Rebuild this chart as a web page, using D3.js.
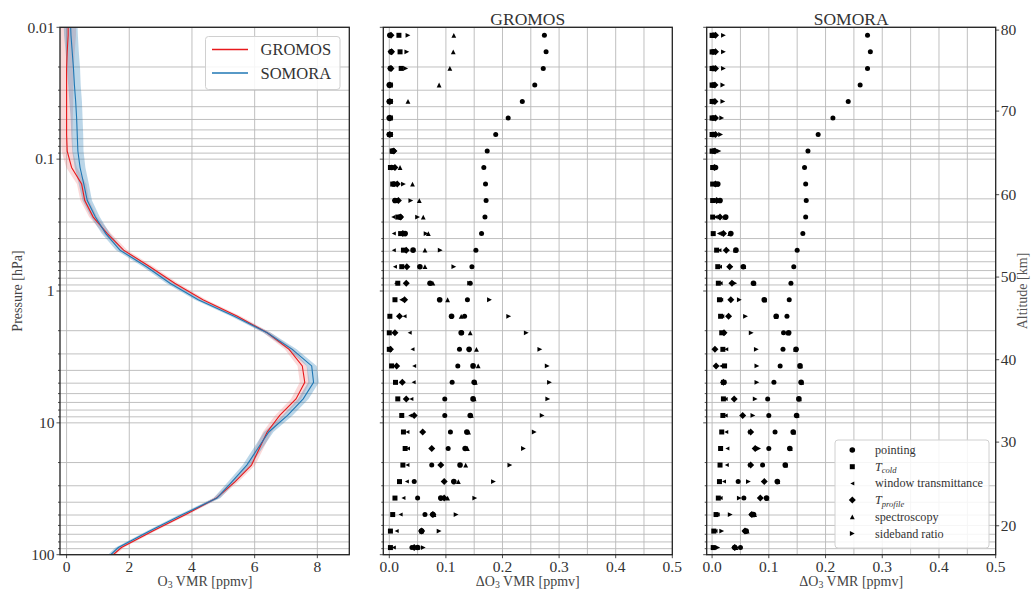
<!DOCTYPE html>
<html>
<head>
<meta charset="utf-8">
<script src="https://cdn.jsdelivr.net/npm/d3@7"></script>
<style>
  body { margin: 0; background: #fff; }
  svg { display: block; }
  text { font-family: "Liberation Serif", "Times New Roman", serif; fill: #333; }
</style>
</head>
<body>
<svg id="chart" width="1031" height="592"></svg>
<script>
// ---------------- data ----------------
// retrieval levels (hPa), top to bottom
const levels = [0.0115, 0.01535, 0.0205, 0.0274, 0.0365, 0.0487, 0.0650, 0.0868,
  0.1157, 0.1545, 0.206, 0.275, 0.367, 0.490, 0.654, 0.873,
  1.165, 1.555, 2.075, 2.77, 3.70, 4.93, 6.58, 8.79,
  11.73, 15.65, 20.9, 27.9, 37.2, 49.6, 66.2, 88.3];

// mean ozone profiles (ppmv) on the profile grid
const profilePressure = [0.01].concat(levels, [100]);
const gromosVmr = [0.05, 0.05, 0.02, 0.0, 0.0, 0.0, 0.0, 0.0, 0.02, 0.16, 0.48, 0.58, 0.85, 1.3, 1.82, 2.66,
  3.45, 4.35, 5.45, 6.4, 7.1, 7.52, 7.6, 7.32, 6.8, 6.4, 6.15, 5.9, 5.38, 4.78, 3.8, 2.75, 1.75, 1.49];
const somoraVmr = [0.13, 0.14, 0.18, 0.22, 0.25, 0.29, 0.32, 0.34, 0.36, 0.43, 0.55, 0.66, 0.92, 1.25, 1.7, 2.55,
  3.3, 4.2, 5.35, 6.4, 7.2, 7.82, 7.88, 7.55, 7.05, 6.45, 6.1, 5.75, 5.28, 4.8, 3.7, 2.65, 1.65, 1.41];
const gromosStd = [0.25, 0.25, 0.24, 0.23, 0.22, 0.21, 0.2, 0.19, 0.18, 0.17, 0.15, 0.14, 0.13, 0.12, 0.12, 0.12,
  0.11, 0.11, 0.11, 0.12, 0.14, 0.15, 0.16, 0.16, 0.15, 0.14, 0.13, 0.12, 0.11, 0.1, 0.09, 0.09, 0.08, 0.08];
const somoraStd = [0.22, 0.22, 0.21, 0.21, 0.2, 0.2, 0.19, 0.19, 0.18, 0.17, 0.16, 0.15, 0.14, 0.13, 0.12, 0.12,
  0.12, 0.11, 0.11, 0.12, 0.14, 0.16, 0.17, 0.17, 0.16, 0.15, 0.14, 0.13, 0.12, 0.11, 0.1, 0.09, 0.09, 0.09];

// GROMOS error terms (ppmv) at each level
const gromosPointing = [0.001, 0.003, 0.002, 0.0, 0.0, 0.0, 0.0, 0.006, 0.004, 0.008, 0.01, 0.019, 0.028, 0.042, 0.054, 0.072,
  0.089, 0.110, 0.127, 0.141, 0.148, 0.150, 0.148, 0.143, 0.137, 0.134, 0.125, 0.114, 0.091, 0.077, 0.057, 0.050];
const gromosTcold = [0.017, 0.019, 0.021, 0.002, 0.002, 0.002, 0.002, 0.005, 0.002, 0.006, 0.012, 0.015, 0.020, 0.025, 0.022, 0.015,
  0.010, 0.001, 0.0, 0.0, 0.004, 0.011, 0.015, 0.022, 0.025, 0.028, 0.024, 0.018, 0.010, 0.006, 0.002, 0.002];
const gromosWindow = [0.0, 0.0, 0.0, 0.0, 0.0, 0.0, 0.0, 0.008, 0.005, 0.006, 0.008, 0.007, 0.008, 0.008, 0.010, 0.012,
  0.021, 0.027, 0.036, 0.041, 0.044, 0.043, 0.039, 0.037, 0.032, 0.033, 0.032, 0.031, 0.025, 0.020, 0.013, 0.008];
const gromosTprofile = [0.003, 0.004, 0.003, 0.001, 0.001, 0.001, 0.001, 0.008, 0.010, 0.014, 0.016, 0.020, 0.024, 0.030, 0.031, 0.030,
  0.027, 0.018, 0.010, 0.002, 0.013, 0.023, 0.030, 0.044, 0.059, 0.075, 0.091, 0.097, 0.097, 0.077, 0.057, 0.044];
const gromosSpectro = [0.114, 0.113, 0.107, 0.088, 0.033, 0.001, 0.001, 0.005, 0.019, 0.041, 0.053, 0.060, 0.069, 0.063, 0.063, 0.077,
  0.103, 0.127, 0.143, 0.154, 0.157, 0.152, 0.150, 0.145, 0.140, 0.138, 0.135, 0.122, 0.103, 0.079, 0.057, 0.050];
const gromosSideband = [0.033, 0.031, 0.029, 0.001, 0.001, 0.001, 0.001, 0.010, 0.010, 0.025, 0.038, 0.050, 0.065, 0.090, 0.114, 0.142,
  0.177, 0.211, 0.242, 0.266, 0.279, 0.283, 0.280, 0.270, 0.256, 0.237, 0.213, 0.184, 0.151, 0.118, 0.088, 0.060];
const gromosExtra = [0.274, 0.277, 0.272, 0.257, 0.235, 0.210, 0.188, 0.173, 0.167, 0.170, 0.171, 0.169, 0.163, 0.153, 0.146, 0.143,
  0.138, 0.133, 0.128, 0.124, 0.121, 0.111, 0.098, 0.098, 0.108, 0.104, 0.075, 0.044, 0.050, 0.063, 0.057, 0.040];

// SOMORA error terms (ppmv) at each level
const somoraPointing = [0.002, 0.002, 0.002, 0.002, 0.002, 0.002, 0.002, 0.003, 0.006, 0.010, 0.014, 0.024, 0.033, 0.042, 0.055, 0.073,
  0.092, 0.113, 0.135, 0.148, 0.155, 0.157, 0.153, 0.149, 0.143, 0.137, 0.129, 0.115, 0.096, 0.073, 0.060, 0.040];
const somoraTcold = [0.0, 0.0, 0.0, 0.0, 0.0, 0.0, 0.0, 0.0, 0.001, 0.001, 0.001, 0.001, 0.002, 0.008, 0.010, 0.011,
  0.013, 0.015, 0.017, 0.019, 0.022, 0.020, 0.020, 0.019, 0.017, 0.015, 0.014, 0.013, 0.011, 0.007, 0.003, 0.002];
const somoraWindow = [0.003, 0.003, 0.003, 0.003, 0.003, 0.003, 0.003, 0.003, 0.004, 0.005, 0.006, 0.006, 0.012, 0.013, 0.014, 0.015,
  0.016, 0.018, 0.021, 0.025, 0.016, 0.022, 0.024, 0.024, 0.025, 0.027, 0.026, 0.021, 0.015, 0.010, 0.006, 0.004];
const somoraTprofile = [0.006, 0.006, 0.006, 0.005, 0.005, 0.006, 0.006, 0.005, 0.004, 0.006, 0.008, 0.014, 0.020, 0.025, 0.031, 0.035,
  0.033, 0.029, 0.021, 0.005, 0.007, 0.020, 0.039, 0.054, 0.068, 0.076, 0.068, 0.092, 0.085, 0.070, 0.058, 0.040];
const somoraSpectro = [0.0, 0.0, 0.0, 0.0, 0.0, 0.0, 0.0, 0.0, 0.004, 0.008, 0.012, 0.022, 0.031, 0.041, 0.056, 0.074,
  0.093, 0.113, 0.134, 0.147, 0.156, 0.158, 0.154, 0.150, 0.144, 0.138, 0.130, 0.116, 0.097, 0.075, 0.062, 0.042];
const somoraSideband = [0.020, 0.020, 0.020, 0.019, 0.019, 0.017, 0.015, 0.012, 0.005, 0.008, 0.012, 0.014, 0.020, 0.027, 0.033, 0.040,
  0.048, 0.059, 0.069, 0.078, 0.079, 0.079, 0.076, 0.072, 0.068, 0.082, 0.068, 0.064, 0.048, 0.032, 0.017, 0.010];
const somoraExtra = [0.274, 0.279, 0.274, 0.261, 0.240, 0.213, 0.187, 0.169, 0.163, 0.165, 0.166, 0.165, 0.160, 0.150, 0.144, 0.139,
  0.136, 0.132, 0.126, 0.125, 0.120, 0.109, 0.098, 0.100, 0.111, 0.100, 0.089, 0.046, 0.056, 0.070, 0.058, 0.050];

// axis ticks
const pressureTicks = [0.01, 0.1, 1, 10, 100];
const pressureTickLabels = ["0.01", "0.1", "1", "10", "100"];
const vmrTicks = [0, 2, 4, 6, 8];
const errTicks = [0, 0.1, 0.2, 0.3, 0.4, 0.5];
const errGrid = [0, 0.05, 0.1, 0.15, 0.2, 0.25, 0.3, 0.35, 0.4, 0.45];
const altitudeTicks = [20, 30, 40, 50, 60, 70, 80];
const altitudePressure = [60.3, 14.0, 3.32, 0.784, 0.186, 0.0432, 0.0105];

// error term legend entries
const errorTerms = [
  { key: "pointing", marker: "circle", label: [["pointing", false]] },
  { key: "Tcold", marker: "square", label: [["T", true], ["cold", true, true]] },
  { key: "window", marker: "left", label: [["window transmittance", false]] },
  { key: "Tprofile", marker: "diamond", label: [["T", true], ["profile", true, true]] },
  { key: "spectro", marker: "up", label: [["spectroscopy", false]] },
  { key: "sideband", marker: "right", label: [["sideband ratio", false]] }
];
const gromosErrors = { pointing: gromosPointing, Tcold: gromosTcold, window: gromosWindow,
  Tprofile: gromosTprofile, spectro: gromosSpectro, sideband: gromosSideband, extra: gromosExtra };
const somoraErrors = { pointing: somoraPointing, Tcold: somoraTcold, window: somoraWindow,
  Tprofile: somoraTprofile, spectro: somoraSpectro, sideband: somoraSideband, extra: somoraExtra };

// ---------------- layout ----------------
const svg = d3.select("#chart");
const plotTop = 27.3, plotBottom = 554.7;
const panels = [
  { x0: 60, x1: 349.3, domain: [-0.21, 9.02] },
  { x0: 383.3, x1: 672.3, domain: [-0.0106, 0.5] },
  { x0: 706.7, x1: 995.7, domain: [-0.0095, 0.5] }
];
const y = d3.scaleLog().domain([100, 0.01]).range([plotBottom, plotTop]);
const gridColor = "#b9b9b9";
const tickFont = 15.5;

function markerPath(type) {
  switch (type) {
    case "circle": return d3.symbol(d3.symbolCircle, Math.PI * 2.8 * 2.8)();
    case "small": return d3.symbol(d3.symbolCircle, Math.PI * 2.5 * 2.5)();
    case "square": { const h = 2.5; return `M${-h},${-h}H${h}V${h}H${-h}Z`; }
    case "diamond": { const h = 3.5; return `M0,${-h}L${h},0L0,${h}L${-h},0Z`; }
    case "up": { const r = 2.4; return `M0,${-r}L${r},${r}L${-r},${r}Z`; }
    case "left": { const r = 2.0; return `M${-r},0L${r},${-r}L${r},${r}Z`; }
    case "right": { const r = 2.4; return `M${r},0L${-r},${-r}L${-r},${r}Z`; }
  }
}

function subText(sel, parts, size) {
  // parts: [text, italic, subscript]
  let shifted = false;
  parts.forEach(([t, it, sub]) => {
    const ts = sel.append("tspan").text(t);
    if (it) ts.attr("font-style", "italic");
    if (sub) { ts.attr("font-size", size * 0.7).attr("dy", size * 0.2); shifted = true; }
    else if (shifted) { ts.attr("dy", -size * 0.2); shifted = false; }
  });
}

function drawFrame(p, i) {
  const x = d3.scaleLinear().domain(p.domain).range([p.x0, p.x1]);
  const g = svg.append("g");
  // horizontal grid at every log tick
  g.append("g").selectAll("line").data(y.ticks()).join("line")
    .attr("x1", p.x0).attr("x2", p.x1)
    .attr("y1", d => y(d)).attr("y2", d => y(d))
    .attr("stroke", gridColor).attr("stroke-width", 0.9);
  // vertical grid
  const vGrid = i === 0 ? vmrTicks : errGrid;
  g.append("g").selectAll("line").data(vGrid).join("line")
    .attr("x1", d => x(d)).attr("x2", d => x(d))
    .attr("y1", plotTop).attr("y2", plotBottom)
    .attr("stroke", gridColor).attr("stroke-width", 0.9);
  // left pressure ticks
  g.append("g").selectAll("line").data(y.ticks()).join("line")
    .attr("x1", p.x0).attr("x2", d => p.x0 - (pressureTicks.includes(d) ? 3.5 : 2))
    .attr("y1", d => y(d)).attr("y2", d => y(d))
    .attr("stroke", "#222").attr("stroke-width", 0.8);
  // bottom ticks and labels
  const xt = i === 0 ? vmrTicks : errTicks;
  g.append("g").selectAll("line").data(xt).join("line")
    .attr("x1", d => x(d)).attr("x2", d => x(d))
    .attr("y1", plotBottom).attr("y2", plotBottom + 3.5)
    .attr("stroke", "#222").attr("stroke-width", 0.8);
  g.append("g").selectAll("text").data(xt).join("text")
    .attr("x", d => x(d)).attr("y", 571.5)
    .attr("text-anchor", "middle").attr("font-size", tickFont)
    .text(d => i === 0 ? d3.format("d")(d) : d3.format(".1f")(d));
  return { x, g };
}

function drawFrameBorder(p) {
  svg.append("rect").attr("x", p.x0).attr("y", plotTop)
    .attr("width", p.x1 - p.x0).attr("height", plotBottom - plotTop)
    .attr("fill", "none").attr("stroke", "#222").attr("stroke-width", 1.3);
}

// ---------------- panel 1: profiles ----------------
const f1 = drawFrame(panels[0], 0);
svg.append("clipPath").attr("id", "clip1").append("rect")
  .attr("x", panels[0].x0).attr("y", plotTop)
  .attr("width", panels[0].x1 - panels[0].x0).attr("height", plotBottom - plotTop);
const pg = svg.append("g").attr("clip-path", "url(#clip1)");
const profiles = [
  { name: "GROMOS", vmr: gromosVmr, std: gromosStd, color: "#e8191c", band: "#f08080" },
  { name: "SOMORA", vmr: somoraVmr, std: somoraStd, color: "#1f77b4", band: "#1f77b4" }
];
profiles.forEach(pr => {
  const rows = profilePressure.map((p, k) => ({ p, v: pr.vmr[k], s: pr.std[k] }));
  const area = d3.area().y(d => y(d.p)).x0(d => f1.x(d.v - d.s)).x1(d => f1.x(d.v + d.s));
  pg.append("path").datum(rows).attr("d", area)
    .attr("fill", pr.band).attr("fill-opacity", 0.3);
});
profiles.forEach(pr => {
  const rows = profilePressure.map((p, k) => ({ p, v: pr.vmr[k] }));
  const line = d3.line().y(d => y(d.p)).x(d => f1.x(d.v));
  pg.append("path").datum(rows).attr("d", line)
    .attr("fill", "none").attr("stroke", pr.color).attr("stroke-width", 1.1);
});
// pressure tick labels
svg.append("g").selectAll("text").data(pressureTicks).join("text")
  .attr("x", 54.5).attr("y", d => y(d) + 5.2)
  .attr("text-anchor", "end").attr("font-size", tickFont)
  .text((d, k) => pressureTickLabels[k]);
// profile legend
const lg = svg.append("g");
lg.append("rect").attr("x", 205.5).attr("y", 36.5).attr("width", 134.5).attr("height", 53)
  .attr("rx", 3).attr("fill", "#fff").attr("fill-opacity", 0.85)
  .attr("stroke", "#d0d0d0").attr("stroke-width", 1);
profiles.forEach((pr, k) => {
  const yy = 49.5 + k * 23.5;
  lg.append("line").attr("x1", 212).attr("x2", 248).attr("y1", yy).attr("y2", yy)
    .style("stroke", pr.color).attr("stroke-width", 1.3);
  lg.append("text").attr("x", 260.5).attr("y", yy + 5.5).attr("font-size", 16.5).text(pr.name);
});
drawFrameBorder(panels[0]);

// axis labels for panel 1
svg.append("text").attr("transform", "translate(22,291) rotate(-90)")
  .attr("text-anchor", "middle").attr("font-size", 14).style("fill", "#444").text("Pressure [hPa]");
subText(svg.append("text").attr("x", 205).attr("y", 585.5).attr("text-anchor", "middle")
  .attr("font-size", 14).style("fill", "#444"), [["O", false], ["3", false, true], [" VMR [ppmv]", false]], 14);

// ---------------- panels 2 and 3: error terms ----------------
const markerOf = { pointing: "circle", Tcold: "square", window: "left", Tprofile: "diamond",
  spectro: "up", sideband: "right", extra: "small" };
[[panels[1], gromosErrors, "GROMOS"], [panels[2], somoraErrors, "SOMORA"]].forEach(([p, errs, title], idx) => {
  const f = drawFrame(p, idx + 1);
  const mg = svg.append("g");
  ["extra", "sideband", "spectro", "Tprofile", "window", "Tcold", "pointing"].forEach(key => {
    const rows = levels.map((lv, k) => ({ p: lv, v: errs[key][k] }));
    mg.append("g").selectAll("path").data(rows).join("path")
      .attr("d", markerPath(markerOf[key]))
      .attr("transform", d => `translate(${f.x(d.v)},${y(d.p)})`)
      .attr("fill", "#000");
  });
  drawFrameBorder(p);
  svg.append("text").attr("x", (p.x0 + p.x1) / 2).attr("y", 24.5)
    .attr("text-anchor", "middle").attr("font-size", 17.5).text(title);
  subText(svg.append("text").attr("x", (p.x0 + p.x1) / 2).attr("y", 585.5).attr("text-anchor", "middle")
    .attr("font-size", 14).style("fill", "#444"),
    [["\u0394O", false], ["3", false, true], [" VMR [ppmv]", false]], 14);
});

// altitude axis on the right of the last panel
const p3 = panels[2];
svg.append("g").selectAll("line").data(altitudeTicks).join("line")
  .attr("x1", p3.x1).attr("x2", p3.x1 + 3.5)
  .attr("y1", (d, k) => y(altitudePressure[k])).attr("y2", (d, k) => y(altitudePressure[k]))
  .attr("stroke", "#222").attr("stroke-width", 0.8);
svg.append("g").selectAll("text").data(altitudeTicks).join("text")
  .attr("x", p3.x1 + 5).attr("y", (d, k) => y(altitudePressure[k]) + 5.2)
  .attr("font-size", tickFont).text(d => d);
svg.append("text").attr("transform", "translate(1027,291) rotate(-90)")
  .attr("text-anchor", "middle").attr("font-size", 14).style("fill", "#555").text("Altitude [km]");

// error term legend
const el = svg.append("g");
el.append("rect").attr("x", 835).attr("y", 440).attr("width", 154).attr("height", 108)
  .attr("rx", 3).attr("fill", "#fff").attr("fill-opacity", 0.85)
  .attr("stroke", "#d0d0d0").attr("stroke-width", 1);
errorTerms.forEach((t, k) => {
  const yy = 450 + k * 16.7;
  el.append("path").attr("d", markerPath(t.marker))
    .attr("transform", `translate(852.3,${yy})`).attr("fill", "#000");
  subText(el.append("text").attr("x", 875).attr("y", yy + 4).attr("font-size", 12.2), t.label, 12.2);
});
</script>
</body>
</html>
